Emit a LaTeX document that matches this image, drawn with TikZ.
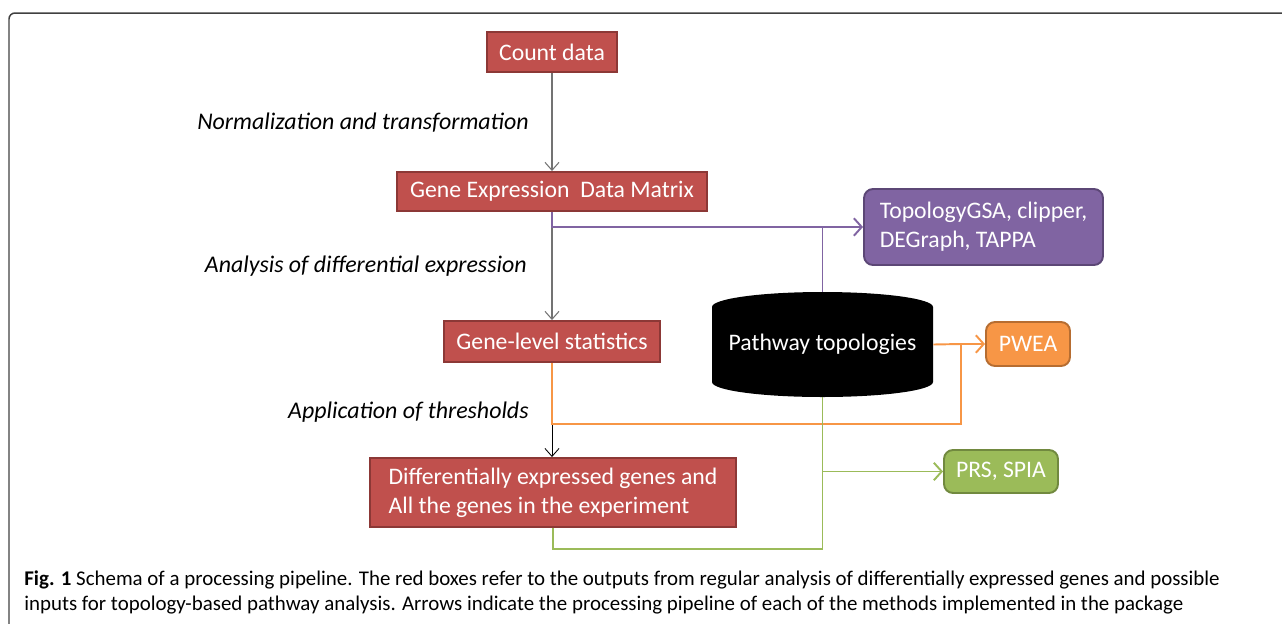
\documentclass[tikz,border=0pt]{standalone}
\usepackage{fontspec}
\setmainfont{Carlito}
\usetikzlibrary{arrows.meta}

\definecolor{boxred}{HTML}{C0504D}
\definecolor{edgered}{HTML}{8C3836}
\definecolor{boxpurple}{HTML}{8064A2}
\definecolor{edgepurple}{HTML}{5C4776}
\definecolor{boxorange}{HTML}{F79646}
\definecolor{edgeorange}{HTML}{B66D31}
\definecolor{boxgreen}{HTML}{9BBB59}
\definecolor{edgegreen}{HTML}{71893F}

\begin{document}
\begin{tikzpicture}[
        x=0.02cm, y=-0.02cm,
        >={Straight Barb[length=4.5pt,width=8pt]},
        box/.style={text=white, line width=1.1pt, inner sep=0pt,
          font=\fontsize{13.5}{16.5}\selectfont},
        redbox/.style={box, fill=boxred, draw=edgered},
        tool/.style={box, rounded corners=0.18cm},
        label/.style={font=\fontsize{13.6}{16}\selectfont\itshape, inner sep=0pt},
        flow/.style={draw=black!55, line width=0.6pt},
        purpleline/.style={draw=boxpurple, line width=1.1pt},
        orangeline/.style={draw=boxorange, line width=1.1pt},
        greenline/.style={draw=boxgreen, line width=1.1pt},
        big/.style={-{Straight Barb[length=4.5pt,width=10pt]}},
      ]

      \useasboundingbox (0,0) rectangle (1282,623);

      % frame of the figure
      \draw[black!75, line width=0.85pt, rounded corners=0.12cm] (1300,13) -- (9,13) -- (9,640);

      % pipeline boxes
      \node[redbox, minimum width=2.6cm, minimum height=0.8cm] (count) at (552,52) {Count data};
      \node[redbox, minimum width=6.2cm, minimum height=0.78cm] (matrix) at (552,191.5) {Gene Expression\ \ Data Matrix};
      \node[redbox, minimum width=4.32cm, minimum height=0.82cm] (stats) at (552,341.5) {Gene-level statistics};
      \node[redbox, minimum width=7.32cm, minimum height=1.38cm, align=left] (degenes) at (553,492.5)
        {Differentially expressed genes and\\All the genes in the experiment};

      % methods
      \node[tool, fill=boxpurple, draw=edgepurple, minimum width=4.78cm, minimum height=1.52cm, align=left] (tgsa) at (983.5,227)
        {TopologyGSA, clipper,\\DEGraph, TAPPA};
      \node[tool, fill=boxorange, draw=edgeorange, minimum width=1.68cm, minimum height=0.88cm] (pwea) at (1028,344) {PWEA};
      \node[tool, fill=boxgreen, draw=edgegreen, minimum width=2.28cm, minimum height=0.86cm] (prs) at (1001,471.5) {PRS, SPIA};

      % pathway database
      \node[minimum width=4.42cm, minimum height=2.1cm, inner sep=0pt] (topo) at (822.5,344.5) {};
      \fill[black] (712,307) .. controls (712,298.7) and (761.5,292) .. (822.5,292)
        .. controls (883.5,292) and (933,298.7) .. (933,307) -- (933,382)
        .. controls (933,390.3) and (883.5,397) .. (822.5,397)
        .. controls (761.5,397) and (712,390.3) .. (712,382) -- cycle;
      \node[text=white, font=\fontsize{13.5}{16}\selectfont] (topotext) at (topo) {Pathway topologies};

      % step labels
      \node[label, anchor=base east] (lnorm) at (529,129) {Normalization and transformation};
      \node[label, anchor=base east] (ldiff) at (527,272) {Analysis of differential expression};
      \node[label, anchor=base east] (lthr) at (529,418) {Application of thresholds};

      % main pipeline
      \draw[flow,->] (count) -- (matrix);
      \draw[flow,->] (matrix) -- (stats);
      \draw[draw=black, line width=0.5pt,->] (stats.south) -- (stats.south |- degenes.north);

      % topology-based methods
      \coordinate (ojoin) at (961,424);
      \coordinate (gjoin) at (822.5,549);
      \draw[purpleline,big] (matrix.south) |- (tgsa.west);
      \draw[purpleline] (topo.north) -- (topo.north |- tgsa.west);
      \draw[orangeline,big] (stats.south) |- (ojoin) |- (pwea.west);
      \draw[orangeline] (topo.east) -- (ojoin |- pwea.west);
      \draw[greenline] (degenes.south) |- (gjoin) -- (topo.south);
      \draw[greenline,big] (topo.south |- prs.west) -- (prs.west);

      % caption
      \node[anchor=base west, align=left, inner sep=0pt, font=\fontsize{11.9}{14.2}\selectfont] (caption) at (24,610)
        {\textbf{Fig. 1} Schema of a processing pipeline. The red boxes refer to the outputs from regular analysis of differentially expressed genes and possible\\
         inputs for topology-based pathway analysis. Arrows indicate the processing pipeline of each of the methods implemented in the package};

    \end{tikzpicture}
\end{document}
